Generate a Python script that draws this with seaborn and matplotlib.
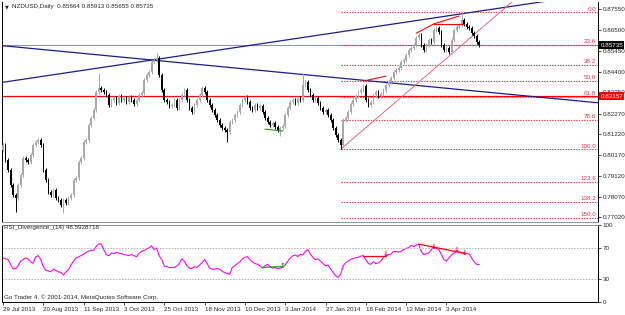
import matplotlib
matplotlib.use("Agg")
import matplotlib.pyplot as plt
import matplotlib.transforms as mtransforms
import numpy as np
import pandas as pd
import seaborn as sns

# daily closes, NZDUSD, 29 Jul 2013 .. 15 Apr 2014
closes = [
    0.8068, 0.7992, 0.7942, 0.7866, 0.7815, 0.7800, 0.7866, 0.7917, 0.8003, 0.7992,
    0.7982, 0.8018, 0.8068, 0.8083, 0.8094, 0.8068, 0.7942, 0.7891, 0.7830, 0.7815,
    0.7841, 0.7800, 0.7790, 0.7765, 0.7790, 0.7775, 0.7800, 0.7815, 0.7891, 0.7901,
    0.7982, 0.8003, 0.8083, 0.8094, 0.8170, 0.8205, 0.8245, 0.8336, 0.8357, 0.8347,
    0.8336, 0.8321, 0.8271, 0.8296, 0.8306, 0.8281, 0.8316, 0.8296, 0.8306, 0.8286,
    0.8311, 0.8296, 0.8276, 0.8296, 0.8321, 0.8331, 0.8397, 0.8423, 0.8438, 0.8488,
    0.8498, 0.8509, 0.8423, 0.8347, 0.8296, 0.8286, 0.8266, 0.8271, 0.8296, 0.8256,
    0.8296, 0.8321, 0.8347, 0.8296, 0.8256, 0.8235, 0.8271, 0.8296, 0.8321, 0.8357,
    0.8336, 0.8296, 0.8271, 0.8245, 0.8220, 0.8195, 0.8170, 0.8154, 0.8144, 0.8134,
    0.8185, 0.8195, 0.8220, 0.8235, 0.8271, 0.8296, 0.8311, 0.8286, 0.8256, 0.8245,
    0.8271, 0.8256, 0.8266, 0.8235, 0.8205, 0.8185, 0.8170, 0.8180, 0.8159, 0.8144,
    0.8154, 0.8164, 0.8220, 0.8256, 0.8286, 0.8296, 0.8281, 0.8306, 0.8296, 0.8372,
    0.8387, 0.8347, 0.8321, 0.8296, 0.8306, 0.8281, 0.8256, 0.8235, 0.8245, 0.8220,
    0.8195, 0.8154, 0.8119, 0.8094, 0.8068, 0.8195, 0.8205, 0.8235, 0.8276, 0.8296,
    0.8316, 0.8336, 0.8347, 0.8367, 0.8296, 0.8271, 0.8286, 0.8321, 0.8336, 0.8316,
    0.8326, 0.8347, 0.8372, 0.8387, 0.8407, 0.8438, 0.8448, 0.8458, 0.8488, 0.8498,
    0.8524, 0.8549, 0.8559, 0.8574, 0.8610, 0.8625, 0.8574, 0.8549, 0.8574, 0.8600,
    0.8589, 0.8650, 0.8660, 0.8640, 0.8574, 0.8549, 0.8559, 0.8539, 0.8600, 0.8650,
    0.8665, 0.8675, 0.8701, 0.8681, 0.8665, 0.8660, 0.8635, 0.8620, 0.8589, 0.85735,
]
first_open = 0.8045

# notable wick extremes
high_bars = [38, 61, 119, 165, 182]
high_vals = [0.8433, 0.8534, 0.8433, 0.8635, 0.8740]
low_bars = [5, 24, 89, 110, 134]
low_vals = [0.7729, 0.7724, 0.8083, 0.8114, 0.8047]

rsi = [
    57.3, 56.0, 55.2, 49.0, 43.0, 43.4, 47.0, 53.0, 55.2, 57.3,
    56.0, 52.0, 50.2, 58.6, 60.3, 55.2, 46.0, 41.0, 40.5, 39.2,
    42.6, 41.0, 39.2, 38.4, 35.0, 39.0, 42.0, 48.0, 53.1, 57.3,
    58.6, 60.3, 62.0, 64.5, 66.0, 67.0, 67.0, 72.1, 75.5, 75.5,
    68.0, 61.6, 60.0, 63.7, 62.8, 64.5, 63.5, 62.8, 61.6, 61.0,
    60.3, 61.6, 60.3, 58.6, 63.0, 65.8, 67.0, 68.7, 70.5, 73.0,
    68.0, 70.0, 60.0, 55.2, 46.8, 45.9, 44.7, 44.7, 44.7, 46.8,
    50.0, 56.1, 53.1, 47.0, 44.0, 43.4, 45.9, 44.7, 48.0, 51.0,
    55.2, 50.0, 44.0, 42.6, 42.6, 43.4, 42.6, 40.0, 38.0, 37.0,
    36.0, 45.0, 47.0, 50.0, 52.0, 56.0, 58.0, 59.0, 55.0, 52.0,
    50.0, 49.0, 47.0, 44.0, 47.0, 49.0, 46.0, 44.0, 45.0, 43.0,
    44.0, 45.0, 48.0, 53.0, 57.0, 60.0, 61.0, 59.0, 62.0, 61.0,
    66.0, 68.0, 62.0, 58.0, 55.0, 56.0, 53.0, 50.0, 47.0, 48.0,
    43.0, 38.4, 34.1, 32.0, 36.2, 46.8, 51.0, 53.1, 55.2, 56.5,
    57.5, 58.2, 59.5, 60.3, 55.0, 50.0, 48.9, 52.3, 49.7, 51.0,
    53.1, 58.2, 60.0, 61.6, 62.4, 65.8, 65.5, 64.9, 65.8, 67.9,
    69.5, 70.8, 73.4, 72.1, 74.0, 75.1, 65.8, 61.6, 62.5, 63.7,
    67.9, 72.1, 69.5, 67.9, 61.6, 55.2, 53.1, 57.3, 61.0, 63.7,
    65.8, 64.5, 63.7, 63.7, 63.0, 62.4, 57.3, 52.0, 48.9, 48.59,
]

date_labels = ["29 Jul 2013", "20 Aug 2013", "11 Sep 2013", "3 Oct 2013",
               "25 Oct 2013", "18 Nov 2013", "10 Dec 2013", "3 Jan 2014",
               "27 Jan 2014", "18 Feb 2014", "12 Mar 2014", "3 Apr 2014"]
date_bars = [0, 16, 32, 48, 64, 80, 96, 112, 128, 144, 160, 176]

price_ticks = [0.87550, 0.86500, 0.85450, 0.84400, 0.83350, 0.82270,
               0.81220, 0.80170, 0.79120, 0.78070, 0.77020]

fib_pcts = [0.0, 23.6, 38.2, 50.0, 61.8, 78.6, 100.0, 123.6, 138.2, 150.0]
fib_high = 0.8740
fib_low = 0.8047
fib_start = 134

bid_price = 0.85735
red_level = 0.83157

down_line_x = [-1, 237]
down_line_y = [0.8572, 0.8281]
up_line_x = [-1, 215]
up_line_y = [0.8384, 0.8795]
fib_trend_x = [134, 202]
fib_trend_y = [0.8047, 0.8792]

# divergence marks on price
pdiv_red = [([143, 152], [0.8392, 0.8417]),
            ([164, 171], [0.8634, 0.8681]),
            ([171, 183], [0.8681, 0.8681]),
            ([171, 181], [0.8681, 0.8721])]
pdiv_green = ([104, 111], [0.8149, 0.8139])

# divergence marks on RSI
rdiv_red = [([143, 152], [60.3, 60.3]),
            ([165, 183], [75.1, 63.4])]
rdiv_green = ([103, 111], [45.0, 46.0])
rsi_red_arrows_x = [152, 171, 180, 183]
rsi_red_arrows_y = [62.0, 72.0, 67.0, 64.0]
rsi_green_arrows_x = [111]
rsi_green_arrows_y = [47.0]

UP = "#a8a8a8"
DOWN = "#000000"
FIB = "#e8304a"

sns.set_theme(style="white")
plt.rcParams["font.family"] = ["Liberation Sans", "DejaVu Sans"]
plt.rcParams["axes.edgecolor"] = "black"
plt.rcParams["axes.linewidth"] = 0.7

df = pd.DataFrame({"bar": np.arange(len(closes)), "close": closes})
df["open"] = [first_open] + closes[:-1]
df["top"] = df[["open", "close"]].max(axis=1)
df["bot"] = df[["open", "close"]].min(axis=1)
df["high"] = df["top"] + 0.0010
df["low"] = df["bot"] - 0.0010
df.loc[high_bars, "high"] = high_vals
df.loc[low_bars, "low"] = low_vals
colors = np.where(df["close"] >= df["open"], UP, DOWN)

fig = plt.figure(figsize=(6.25, 3.15), dpi=100)
ax = fig.add_axes([0.0027, 0.2952, 0.954, 0.6985])
ax2 = fig.add_axes([0.0027, 0.0413, 0.954, 0.2444])

xlim = (-0.5, 236.1)

# --- price panel
ax.vlines(df["bar"], df["low"], df["high"], colors=colors, linewidth=0.7, zorder=3)
ax.bar(df["bar"], (df["top"] - df["bot"]).clip(lower=0.0002), bottom=df["bot"],
       width=0.6, color=colors, linewidth=0, zorder=3)

ax.axhline(bid_price, color="#8a9aaa", linewidth=0.8, zorder=1)
ax.axhline(red_level, color="red", linewidth=0.9, zorder=1)
ax.plot(down_line_x, down_line_y, color="#1c1c8a", linewidth=0.9, zorder=2)
ax.plot(up_line_x, up_line_y, color="#1c1c8a", linewidth=0.9, zorder=2)
ax.plot(fib_trend_x, fib_trend_y, color="#f06080", linewidth=0.7, zorder=2)

label_tr = mtransforms.blended_transform_factory(ax.transAxes, ax.transData)
for pct in fib_pcts:
    level = fib_high - (fib_high - fib_low) * pct / 100
    ax.plot([fib_start, xlim[1]], [level, level], color=FIB, linestyle=(0, (1.2, 1.2)),
            linewidth=0.8, zorder=1)
    ax.text(0.997, level + 0.0003, f"{pct:.1f}", transform=label_tr, ha="right",
            va="bottom", color=FIB, fontsize=4.5)

for xs, ys in pdiv_red:
    ax.plot(xs, ys, color="red", linewidth=0.8, zorder=4)
ax.plot(*pdiv_green, color="#1a9a1a", linewidth=0.8, zorder=4)

ax.set_xlim(*xlim)
ax.set_ylim(0.7679, 0.8792)
ax.set_xticks([])
ax.yaxis.tick_right()
ax.set_yticks(price_ticks)
ax.set_yticklabels([f"{p:.5f}" for p in price_ticks])
ax.tick_params(axis="y", direction="out", length=2, width=0.6, labelsize=4.5, pad=1.5,
               right=True)
ax.spines["top"].set_visible(False)
ax.spines["bottom"].set_color("#909090")

for val, fc in [(bid_price, "black"), (red_level, "red")]:
    ax.text(1.004, val, f"{val:.5f}", transform=label_tr, ha="left", va="center",
            color="white", fontsize=4.5, zorder=10,
            bbox=dict(boxstyle="square,pad=0.2", fc=fc, ec="none"))

# --- RSI panel
sns.lineplot(x=df["bar"], y=rsi, ax=ax2, color="#ff00ff", linewidth=0.8)
for lvl in (70, 30):
    ax2.axhline(lvl, color="#b0b0b0", linestyle=(0, (1.5, 1.5)), linewidth=0.7)
for xs, ys in rdiv_red:
    ax2.plot(xs, ys, color="red", linewidth=0.9)
ax2.plot(*rdiv_green, color="#1a9a1a", linewidth=0.9)
for x, y in zip(rsi_red_arrows_x, rsi_red_arrows_y):
    ax2.text(x, y, "\u2193", color="red", fontsize=5, ha="center", va="center",
             family="DejaVu Sans", fontweight="bold")
for x, y in zip(rsi_green_arrows_x, rsi_green_arrows_y):
    ax2.text(x, y, "\u2191", color="#1a9a1a", fontsize=5, ha="center", va="center",
             family="DejaVu Sans", fontweight="bold")

ax2.set_xlim(*xlim)
ax2.set_ylim(0, 100)
ax2.set_xlabel("")
ax2.set_ylabel("")
ax2.yaxis.tick_right()
ax2.set_yticks([0, 30, 70, 100])
ax2.set_yticklabels(["0", "30", "70", "100"])
ax2.tick_params(axis="y", direction="out", length=2, width=0.6, labelsize=4.5, pad=1.5,
                right=True)
ax2.set_xticks(date_bars)
ax2.set_xticklabels(date_labels)
ax2.tick_params(axis="x", direction="out", length=2.5, width=0.6, labelsize=4.5, pad=1,
                bottom=True)
for lbl in ax2.get_xticklabels():
    lbl.set_ha("left")
ax2.spines["top"].set_color("#909090")

# --- texts
fig.text(0.008, 0.978, "\u25bc", fontsize=3.5, va="center", family="DejaVu Sans")
fig.text(0.02, 0.978, "NZDUSD,Daily  0.85664 0.85913 0.85655 0.85735",
         fontsize=4.5, va="center")
fig.text(0.006, 0.278, "RSI_Divergence_(14) 48.5928718", fontsize=4.5, va="center")
fig.text(0.006, 0.055, "Go Trader 4, \u00a9 2001-2014, MetaQuotes Software Corp.",
         fontsize=4.5, va="center")

fig.savefig("out.png", dpi=100)
